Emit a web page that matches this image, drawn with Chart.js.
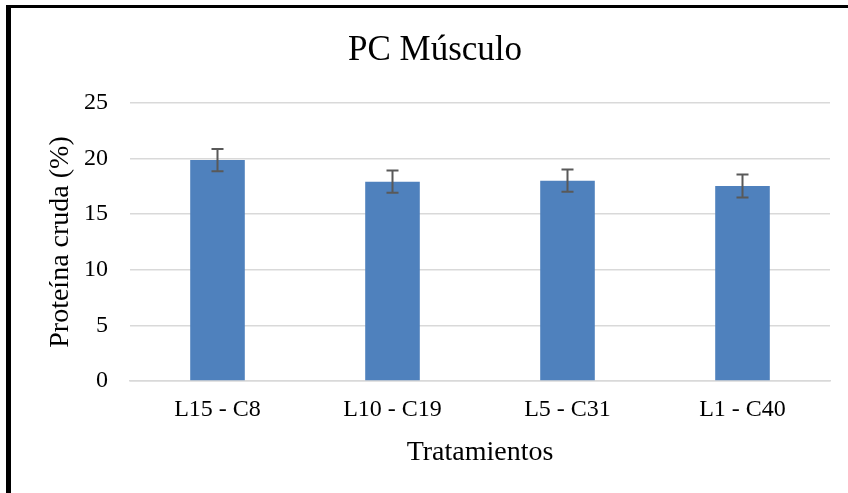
<!DOCTYPE html>
<html>
<head>
<meta charset="utf-8">
<script src="https://cdn.jsdelivr.net/npm/chart.js@4.4.1/dist/chart.umd.min.js"></script>
<style>
  html, body { margin: 0; padding: 0; background: #fff; }
  #wrap { position: relative; width: 848px; height: 493px; }
  #wrap canvas { position: absolute; left: 0; top: 0; }
  #topb { position: absolute; left: 6px; top: 5px; width: 842px; height: 3px; background: #000; }
  #leftb { position: absolute; left: 6px; top: 5px; width: 5px; height: 488px; background: #000; }
</style>
</head>
<body>
<div id="wrap">
  <canvas id="c" width="848" height="493"></canvas>
  <div id="topb"></div>
  <div id="leftb"></div>
</div>
<script>
const categories = ['L15 - C8', 'L10 - C19', 'L5 - C31', 'L1 - C40'];
const proteina = [19.87, 17.92, 18.01, 17.54];
const errores = [1.0, 1.0, 1.0, 1.04];
const yTicks = [0, 5, 10, 15, 20, 25];

const FONT = "'Liberation Serif', 'Times New Roman', serif";

const errorBars = {
  id: 'errorBars',
  afterDatasetsDraw(chart) {
    const ctx = chart.ctx;
    const meta = chart.getDatasetMeta(0);
    const y = chart.scales.y;
    ctx.save();
    ctx.strokeStyle = '#595959';
    ctx.lineWidth = 2;
    meta.data.forEach((bar, i) => {
      const x = bar.x;
      const top = y.getPixelForValue(proteina[i] + errores[i]);
      const bot = y.getPixelForValue(proteina[i] - errores[i]);
      const hw = 6;
      ctx.beginPath();
      ctx.moveTo(x, top); ctx.lineTo(x, bot);
      ctx.moveTo(x - hw, top); ctx.lineTo(x + hw, top);
      ctx.moveTo(x - hw, bot); ctx.lineTo(x + hw, bot);
      ctx.stroke();
    });
    ctx.restore();
  }
};

new Chart(document.getElementById('c'), {
  type: 'bar',
  data: {
    labels: categories,
    datasets: [{
      data: proteina,
      backgroundColor: '#4F81BD',
      borderWidth: 0,
      categoryPercentage: 1,
      barPercentage: 0.312
    }]
  },
  options: {
    responsive: false,
    animation: false,
    layout: { padding: { left: 40, right: 18, top: 12, bottom: 20 } },
    plugins: {
      legend: { display: false },
      tooltip: { enabled: false },
      title: {
        display: true,
        text: 'PC Músculo',
        color: '#000',
        font: { family: FONT, size: 35, weight: 'normal' },
        padding: { top: 18, bottom: 31 }
      }
    },
    scales: {
      x: {
        grid: { display: false, drawTicks: false },
        border: { display: true, color: '#D9D9D9', width: 1.5 },
        ticks: { color: '#000', font: { family: FONT, size: 24 }, padding: 14 },
        title: {
          display: true, text: 'Tratamientos', color: '#000',
          font: { family: FONT, size: 28 }, padding: { top: 6 }
        },
        afterFit(s) { s.height = 92; }
      },
      y: {
        min: 0, max: 25,
        afterBuildTicks(s) { s.ticks = yTicks.map(v => ({ value: v })); },
        grid: { color: '#D9D9D9', lineWidth: 1.5, drawTicks: false },
        border: { display: false },
        ticks: { color: '#000', font: { family: FONT, size: 24 }, padding: 22 },
        title: {
          display: true, text: 'Proteína cruda (%)', color: '#000',
          font: { family: FONT, size: 28 }, padding: { bottom: 6 }
        },
        afterFit(s) { s.width = 90; }
      }
    }
  },
  plugins: [errorBars]
});
</script>
</body>
</html>
